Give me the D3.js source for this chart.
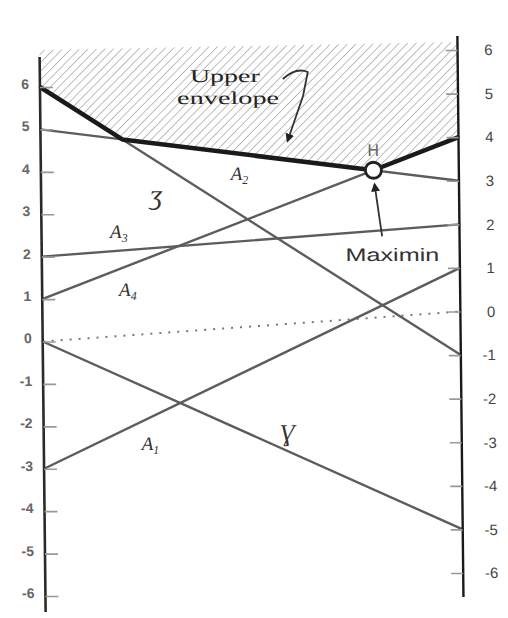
<!DOCTYPE html>
<html><head><meta charset="utf-8">
<script src="https://cdn.jsdelivr.net/npm/d3@7"></script>
<style>body{margin:0;background:#fff}svg{display:block}</style>
</head><body>
<svg id="c" width="508" height="618"></svg>
<script>
// ---- data ----
const strategies = ["A1","A2","A3","A4","A5","A6"];
const leftValues  = [-3, 5, 2, 1, 6, 0];
const rightValues = [ 1, 3, 2, 4, -1, -5];
const tickValues = [6,5,4,3,2,1,0,-1,-2,-3,-4,-5,-6];
const lineLabels = [
  {text:"A", sub:"1", x:0.255, v:-2.56, size:19},
  {text:"A", sub:"2", x:0.475, v:3.8, size:19},
  {text:"A", sub:"3", x:0.185, v:2.45, size:19},
  {text:"A", sub:"4", x:0.205, v:1.08, size:19},
  {text:"ʒ", sub:"", x:0.275, v:3.25, size:28},
  {text:"Ɣ", sub:"", x:0.585, v:-2.35, size:24}
];

const svg = d3.select("#c");
const root = svg.append("g").attr("transform","skewX(0.62)");

const x = d3.scaleLinear().domain([0,1]).range([39,457]);
const yL = d3.scaleLinear().domain([-6,6]).range([596,87]);
const yR = d3.scaleLinear().domain([-6,6]).range([573,50]);

const lines = leftValues.map((l,i)=>({name:strategies[i], l, r:rightValues[i]}));
const py = (d,p) => (1-p)*yL(d.l) + p*yR(d.r);

// ---- upper envelope (min pixel y) ----
function envelope(){
  const pts=[];
  let p=0;
  let cur = lines.reduce((a,b)=> py(b,0)<py(a,0)||(py(b,0)===py(a,0)&&py(b,1)<py(a,1))?b:a);
  pts.push([p, py(cur,0)]);
  while(true){
    let best=null,bp=2;
    lines.forEach(d=>{
      if(d===cur) return;
      const a0=py(cur,0)-py(d,0), a1=py(cur,1)-py(d,1);
      if(a0===a1) return;
      const t=a0/(a0-a1);
      if(t>p+1e-9 && t<bp && a1>0){bp=t;best=d;}
    });
    if(!best||bp>1) break;
    p=bp; cur=best; pts.push([p, py(cur,p)]);
  }
  pts.push([1, py(cur,1)]);
  return pts;
}
const env = envelope();
const maximin = env.slice(1,-1).reduce((a,b)=> b[1]>a[1]?b:a);

// ---- hatch pattern ----
const defs = svg.append("defs");
const pat = defs.append("pattern").attr("id","hatch").attr("patternUnits","userSpaceOnUse")
  .attr("width",6).attr("height",6).attr("patternTransform","rotate(45)");
pat.append("line").attr("x1",0).attr("y1",0).attr("x2",0).attr("y2",6)
  .attr("stroke","#a8a8a8").attr("stroke-width",1.5);
const mk = defs.append("marker").attr("id","arr").attr("viewBox","0 0 10 10").attr("refX",8).attr("refY",5)
  .attr("markerWidth",5).attr("markerHeight",5).attr("orient","auto");
mk.append("path").attr("d","M0,0L10,5L0,10z").attr("fill","#222");

root.append("path").attr("d", "M"+[[x(0),50],[x(1),42]].concat(env.slice().reverse().map(e=>[x(e[0]),e[1]])).map(p=>p.join(",")).join("L")+"Z")
  .attr("fill","url(#hatch)");

// ---- dotted zero line ----
root.append("line").attr("x1",x(0)).attr("y1",yL(0)).attr("x2",x(1)).attr("y2",yR(0))
  .attr("stroke","#777").attr("stroke-width",2).attr("stroke-dasharray","2,7");

// ---- strategy lines ----
root.selectAll("line.s").data(lines).enter().append("line").attr("class","s")
  .attr("x1",x(0)).attr("y1",d=>yL(d.l)).attr("x2",x(1)).attr("y2",d=>yR(d.r))
  .attr("stroke","#5c5c5c").attr("stroke-width",2.4).attr("stroke-linecap","round");

// ---- envelope ----
root.append("path").attr("d", d3.line().x(e=>x(e[0])).y(e=>e[1])(env))
  .attr("fill","none").attr("stroke","#1a1a1a").attr("stroke-width",4.5).attr("stroke-linejoin","round");

// ---- axes ----
root.append("line").attr("x1",x(0)).attr("x2",x(0)).attr("y1",57).attr("y2",612).attr("stroke","#2a2a2a").attr("stroke-width",2.6);
root.append("line").attr("x1",x(1)).attr("x2",x(1)).attr("y1",36).attr("y2",597).attr("stroke","#1a1a1a").attr("stroke-width",2.4);

const axL = d3.axisRight(yL).tickValues(tickValues).tickSize(13).tickFormat("");
const gL = root.append("g").attr("transform",`translate(${x(0)},0)`).call(axL);
gL.select(".domain").remove();
gL.selectAll(".tick line").attr("stroke","#999").attr("stroke-width",1.6);
const axLl = d3.axisLeft(yL).tickValues(tickValues).tickSize(0).tickPadding(11).tickFormat(d=>d);
const gLl = root.append("g").attr("transform",`translate(${x(0)},-3)`).call(axLl);
gLl.select(".domain").remove();
gLl.selectAll("text").attr("font-family","Liberation Sans, Arial, sans-serif").attr("font-size",14).attr("fill","#666").attr("font-weight","bold");

const axR = d3.axisLeft(yR).tickValues(tickValues).tickSize(12).tickFormat("");
const gR = root.append("g").attr("transform",`translate(${x(1)},0)`).call(axR);
gR.select(".domain").remove();
gR.selectAll(".tick line").attr("stroke","#999").attr("stroke-width",1.6);
const axRl = d3.axisRight(yR).tickValues(tickValues).tickSize(0).tickPadding(0).tickFormat(d=>d);
const gRl = root.append("g").attr("transform",`translate(${x(1)+35},0)`).call(axRl);
gRl.select(".domain").remove();
gRl.selectAll("text").attr("text-anchor","end").attr("font-family","Liberation Sans, Arial, sans-serif").attr("font-size",15).attr("fill","#444");

// ---- line labels ----
lineLabels.forEach(lb=>{
  const t = root.append("text").attr("x",x(lb.x)).attr("y",yL(lb.v)).attr("text-anchor","middle")
    .attr("font-family","Liberation Serif, serif").attr("font-style","italic").attr("font-size",lb.size).attr("fill","#333");
  t.append("tspan").text(lb.text);
  if(lb.sub) t.append("tspan").attr("dy",4).attr("font-size",12).text(lb.sub);
});

// ---- maximin marker ----
const mx = x(maximin[0]), my = maximin[1];
root.append("circle").attr("cx",mx).attr("cy",my).attr("r",8).attr("fill","#fff").attr("stroke","#222").attr("stroke-width",2.8);
root.append("text").attr("x",mx).attr("y",my-14).attr("text-anchor","middle")
  .attr("font-family","DejaVu Sans, sans-serif").attr("font-size",16).attr("fill","#666").text("H");
root.append("line").attr("x1",mx+8).attr("y1",my+66).attr("x2",mx+1).attr("y2",my+14)
  .attr("stroke","#333").attr("stroke-width",1.8).attr("marker-end","url(#arr)");
root.append("text").attr("x",mx+18).attr("y",my+91).attr("text-anchor","middle")
  .attr("font-family","Liberation Sans, Arial, sans-serif").attr("font-size",18).attr("fill","#333")
  .attr("textLength",94).attr("lengthAdjust","spacingAndGlyphs").text("Maximin");

// ---- upper envelope label ----
root.append("text").attr("x",224).attr("y",82).attr("text-anchor","middle")
  .attr("font-family","Liberation Serif, serif").attr("font-size",18).attr("fill","#222")
  .attr("textLength",70).attr("lengthAdjust","spacingAndGlyphs").text("Upper");
root.append("text").attr("x",227).attr("y",104).attr("text-anchor","middle")
  .attr("font-family","Liberation Serif, serif").attr("font-size",18).attr("fill","#222")
  .attr("textLength",102).attr("lengthAdjust","spacingAndGlyphs").text("envelope");
root.append("path").attr("d","M282,79 C292,70 300,69 307,72 L302,96 L286,141")
  .attr("fill","none").attr("stroke","#333").attr("stroke-width",1.8).attr("marker-end","url(#arr)");
</script>
</body></html>
